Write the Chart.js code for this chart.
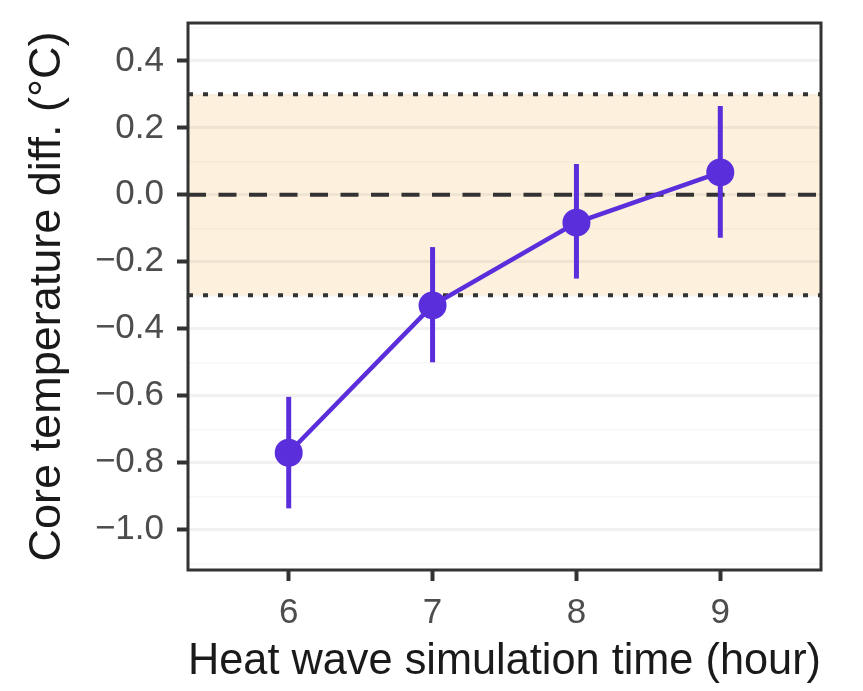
<!DOCTYPE html>
<html>
<head>
<meta charset="utf-8">
<script src="https://cdn.jsdelivr.net/npm/chart.js@4/dist/chart.umd.min.js"></script>
<style>
  html, body { margin: 0; padding: 0; background: #fff; }
  canvas { display: block; }
</style>
</head>
<body>
<canvas id="chart" width="863" height="691"></canvas>
<script>
// Core temperature difference vs. heat-wave simulation time (mean with interval)
const hours = [6, 7, 8, 9];
const diffMean = [-0.77, -0.33, -0.083, 0.067];
const diffLow = [-0.936, -0.50, -0.25, -0.128];
const diffHigh = [-0.603, -0.156, 0.092, 0.265];

const xTickVals = [6, 7, 8, 9];
const yGridVals = [-1.1, -1.0, -0.9, -0.8, -0.7, -0.6, -0.5, -0.4, -0.3, -0.2, -0.1, 0.0, 0.1, 0.2, 0.3, 0.4, 0.5];
const yLabelVals = [-1.0, -0.8, -0.6, -0.4, -0.2, 0.0, 0.2, 0.4];

const bandLimits = [-0.3, 0.3];   // dotted band edges
const zeroLine = 0;

const PURPLE = '#5a2fdb';
const INK = '#333333';
const FONT = "'Liberation Sans', Arial, sans-serif";

const isLabelled = (v) => yLabelVals.some((l) => Math.abs(l - v) < 1e-6);
const fmt = (v) => v.toFixed(1).replace('-', '\u2212');

// band behind the grid, then the reference lines and error bars over it
const refPlugin = {
  id: 'refLines',
  beforeDraw(chart) {
    const { ctx, chartArea: a, scales: { y } } = chart;
    const top = y.getPixelForValue(bandLimits[1]);
    const bot = y.getPixelForValue(bandLimits[0]);
    ctx.save();
    ctx.fillStyle = '#fdf1de';
    ctx.fillRect(a.left, top, a.right - a.left, bot - top);
    ctx.restore();
  },
  beforeDatasetsDraw(chart) {
    const { ctx, chartArea: a, scales: { x, y } } = chart;
    ctx.save();
    ctx.strokeStyle = INK;
    ctx.lineWidth = 4;
    ctx.setLineDash([5, 10]);
    bandLimits.forEach((v) => {
      const py = y.getPixelForValue(v);
      ctx.beginPath();
      ctx.moveTo(a.left, py);
      ctx.lineTo(a.right, py);
      ctx.stroke();
    });
    ctx.setLineDash([18, 12.5]);
    const pz = y.getPixelForValue(zeroLine);
    ctx.beginPath();
    ctx.moveTo(a.left, pz);
    ctx.lineTo(a.right, pz);
    ctx.stroke();

    // error bars
    ctx.setLineDash([]);
    ctx.strokeStyle = PURPLE;
    ctx.lineWidth = 5;
    hours.forEach((h, i) => {
      const px = x.getPixelForValue(h);
      ctx.beginPath();
      ctx.moveTo(px, y.getPixelForValue(diffLow[i]));
      ctx.lineTo(px, y.getPixelForValue(diffHigh[i]));
      ctx.stroke();
    });
    ctx.restore();
  },
  afterDraw(chart) {
    const { ctx, chartArea: a } = chart;
    ctx.save();
    ctx.strokeStyle = INK;
    ctx.lineWidth = 3;
    ctx.strokeRect(a.left, a.top, a.right - a.left, a.bottom - a.top);
    ctx.restore();
  }
};

new Chart(document.getElementById('chart'), {
  type: 'line',
  data: {
    datasets: [{
      data: hours.map((h, i) => ({ x: h, y: diffMean[i] })),
      borderColor: PURPLE,
      backgroundColor: PURPLE,
      borderWidth: 4.5,
      pointRadius: 14,
      pointHoverRadius: 14,
      pointBorderWidth: 0,
      tension: 0
    }]
  },
  options: {
    responsive: false,
    animation: false,
    devicePixelRatio: 1,
    layout: { padding: { top: 23, right: 42, left: 0, bottom: 0 } },
    plugins: { legend: { display: false }, tooltip: { enabled: false } },
    scales: {
      x: {
        type: 'linear',
        min: 5.3,
        max: 9.7,
        afterBuildTicks: (s) => { s.ticks = xTickVals.map((v) => ({ value: v })); },
        afterFit: (s) => { s.height = 121; s.paddingLeft = 0; s.paddingRight = 0; },
        border: { display: false },
        grid: { drawOnChartArea: false, drawTicks: true, tickLength: 11, tickWidth: 4, tickColor: INK },
        ticks: {
          autoSkip: false, maxRotation: 0, padding: 11, color: '#4d4d4d',
          font: { family: FONT, size: 35 },
          callback: (v) => String(v)
        },
        title: {
          display: true,
          text: 'Heat wave simulation time (hour)',
          color: '#1a1a1a',
          font: { family: FONT, size: 45 },
          padding: { top: 0, bottom: 2 }
        }
      },
      y: {
        min: -1.12,
        max: 0.513,
        afterBuildTicks: (s) => { s.ticks = yGridVals.map((v) => ({ value: v })); },
        afterFit: (s) => { s.width = 188; s.paddingTop = 0; s.paddingBottom = 0; },
        border: { display: false },
        grid: {
          drawTicks: true,
          tickLength: 11,
          color: (c) => isLabelled(c.tick.value) ? 'rgba(0,0,0,0.055)' : 'rgba(0,0,0,0.03)',
          lineWidth: (c) => isLabelled(c.tick.value) ? 3 : 1.5,
          tickColor: (c) => isLabelled(c.tick.value) ? INK : 'rgba(0,0,0,0)',
          tickWidth: 4
        },
        ticks: {
          autoSkip: false, padding: 13, color: '#4d4d4d',
          font: { family: FONT, size: 35 },
          callback: (v) => isLabelled(v) ? fmt(v) : ''
        },
        title: {
          display: true,
          text: 'Core temperature diff. (\u00B0C)',
          color: '#1a1a1a',
          font: { family: FONT, size: 45 },
          padding: { top: 21, bottom: 0 }
        }
      }
    }
  },
  plugins: [refPlugin]
});
</script>
</body>
</html>
